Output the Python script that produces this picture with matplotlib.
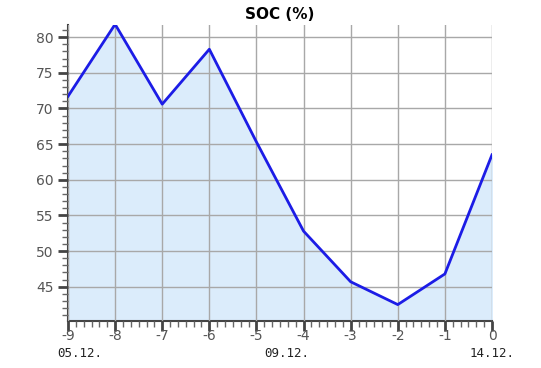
import numpy as np
import matplotlib
matplotlib.use("Agg")
import matplotlib.pyplot as plt
from matplotlib.ticker import MultipleLocator

plt.rcParams["axes.unicode_minus"] = False

# SOC values per day offset
days = [-9, -8, -7, -6, -5, -4, -3, -2, -1, 0]
soc = [71.7, 81.8, 70.6, 78.3, 65.3, 52.8, 45.7, 42.5, 46.8, 63.5]

date_labels = ["05.12.", "09.12.", "14.12."]
date_pos = [-8.75, -4.35, 0]

fig = plt.figure(figsize=(5.41, 3.68), dpi=100)
ax = fig.add_axes([68 / 541, 1 - 321 / 368, 424 / 541, 296 / 368])

ax.fill_between(days, soc, 40.2, color="#dbecfb", zorder=1)
ax.plot(days, soc, color="#1c1ce6", lw=2, zorder=3)

ax.set_xlim(-9, 0)
ax.set_ylim(40.2, 81.7)

ax.xaxis.set_major_locator(MultipleLocator(1))
ax.xaxis.set_minor_locator(MultipleLocator(1 / 6))
ax.yaxis.set_major_locator(MultipleLocator(5))
ax.yaxis.set_minor_locator(MultipleLocator(1))
ax.set_yticks(np.arange(45, 81, 5))

ax.grid(True, which="major", color="#a8a8a8", lw=1.0, zorder=2)
ax.set_axisbelow(False)

for s in ["top", "right"]:
    ax.spines[s].set_visible(False)
for s in ["left", "bottom"]:
    ax.spines[s].set_color("#444444")
    ax.spines[s].set_linewidth(1.5)

ax.tick_params(axis="both", which="major", length=7, width=2, color="#444444",
               labelsize=10, labelcolor="#555555")
ax.tick_params(axis="both", which="minor", length=4, width=1, color="#666666")
ax.tick_params(axis="x", which="major", pad=-1)

ax.set_title("SOC (%)", fontsize=11, fontweight="bold", pad=4)

for lab, p in zip(date_labels, date_pos):
    ax.text(p, -0.088, lab, transform=ax.get_xaxis_transform(), ha="center",
            va="top", fontsize=9, family="DejaVu Sans Mono", color="#222222")

fig.savefig("out.png", dpi=100)
